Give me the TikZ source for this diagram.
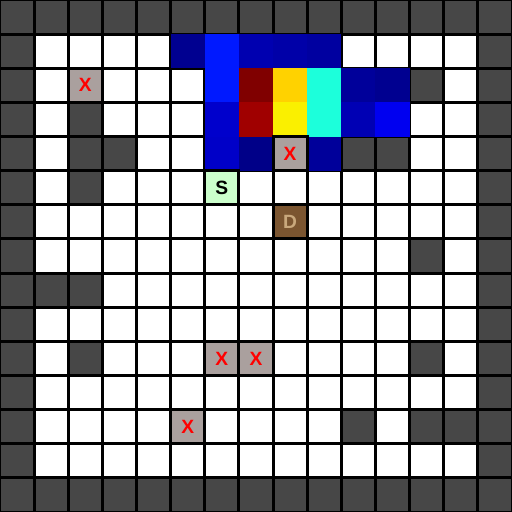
\documentclass[tikz,border=0pt]{standalone}
\usepackage{fontspec}
\setmainfont{Liberation Sans}
\definecolor{wallgray}{HTML}{474747}
\definecolor{xgray}{HTML}{AAA09E}
\definecolor{sgreen}{HTML}{CCFFCC}
\definecolor{dbrown}{HTML}{7B5530}
\definecolor{dtan}{HTML}{C9A87C}
\definecolor{xred}{HTML}{FF0000}
\definecolor{hA}{HTML}{000090}
\definecolor{hB}{HTML}{0019FF}
\definecolor{hC}{HTML}{0000B0}
\definecolor{hD}{HTML}{0000A8}
\definecolor{hE}{HTML}{0000A0}
\definecolor{hF}{HTML}{800000}
\definecolor{hG}{HTML}{FFD200}
\definecolor{hH}{HTML}{1CFFDB}
\definecolor{hI}{HTML}{00009A}
\definecolor{hJ}{HTML}{0000CC}
\definecolor{hK}{HTML}{A00000}
\definecolor{hL}{HTML}{FAF000}
\definecolor{hM}{HTML}{0000B4}
\definecolor{hN}{HTML}{0000F0}
\definecolor{hO}{HTML}{0000C8}
\definecolor{hP}{HTML}{000088}
\begin{document}
\begin{tikzpicture}[
  gridline/.style={line width=2.5pt, black},
  cellbox/.style={minimum size=1cm, inner sep=0pt, outer sep=0pt, font=\fontsize{16}{16}\selectfont\bfseries},
  xcell/.style={cellbox, fill=xgray, text=xred},
  scell/.style={cellbox, fill=sgreen, text=black},
  dcell/.style={cellbox, fill=dbrown, text=dtan},
]
\useasboundingbox (0,0) rectangle (15,15);
\fill[white] (0,0) rectangle (15,15);
% border walls
\foreach \k in {0,...,14} {
  \fill[wallgray] (\k,14) rectangle ++(1,1);
  \fill[wallgray] (\k,0) rectangle ++(1,1);
  \fill[wallgray] (0,\k) rectangle ++(1,1);
  \fill[wallgray] (14,\k) rectangle ++(1,1);
}
% interior walls (column/row from top)
\foreach \c/\r in {2/3,2/4,3/4,10/4,11/4,12/2,2/5,12/7,1/8,2/8,2/10,12/10,10/12,12/12,13/12}
  \fill[wallgray] (\c,14-\r) rectangle ++(1,1);
% marked cells
\node[xcell] (x1) at (2.5,12.5) {X};
\node[xcell] (x2) at (8.5,10.5) {X};
\node[xcell] (x3) at (6.5,4.5) {X};
\node[xcell] (x4) at (7.5,4.5) {X};
\node[xcell] (x5) at (5.5,2.5) {X};
\node[scell] (s) at (6.5,9.5) {S};
\node[dcell] (d) at (8.5,8.5) {D};
% grid
\foreach \i in {0,...,15} {
  \draw[gridline] (\i,0) -- (\i,15);
  \draw[gridline] (0,\i) -- (15,\i);
}
% heat map
\foreach \c/\r/\col in {5/1/hA,6/1/hB,7/1/hC,8/1/hD,9/1/hE,
  6/2/hB,7/2/hF,8/2/hG,9/2/hH,10/2/hI,11/2/hA,
  6/3/hJ,7/3/hK,8/3/hL,9/3/hH,10/3/hM,11/3/hN,
  6/4/hO,7/4/hP,9/4/hI}
  \fill[\col] (\c,14-\r) rectangle ++(1,1);
\draw[gridline] (8,10) rectangle (9,11);
\draw[gridline] (6,9) rectangle (7,10);
\end{tikzpicture}
\end{document}
